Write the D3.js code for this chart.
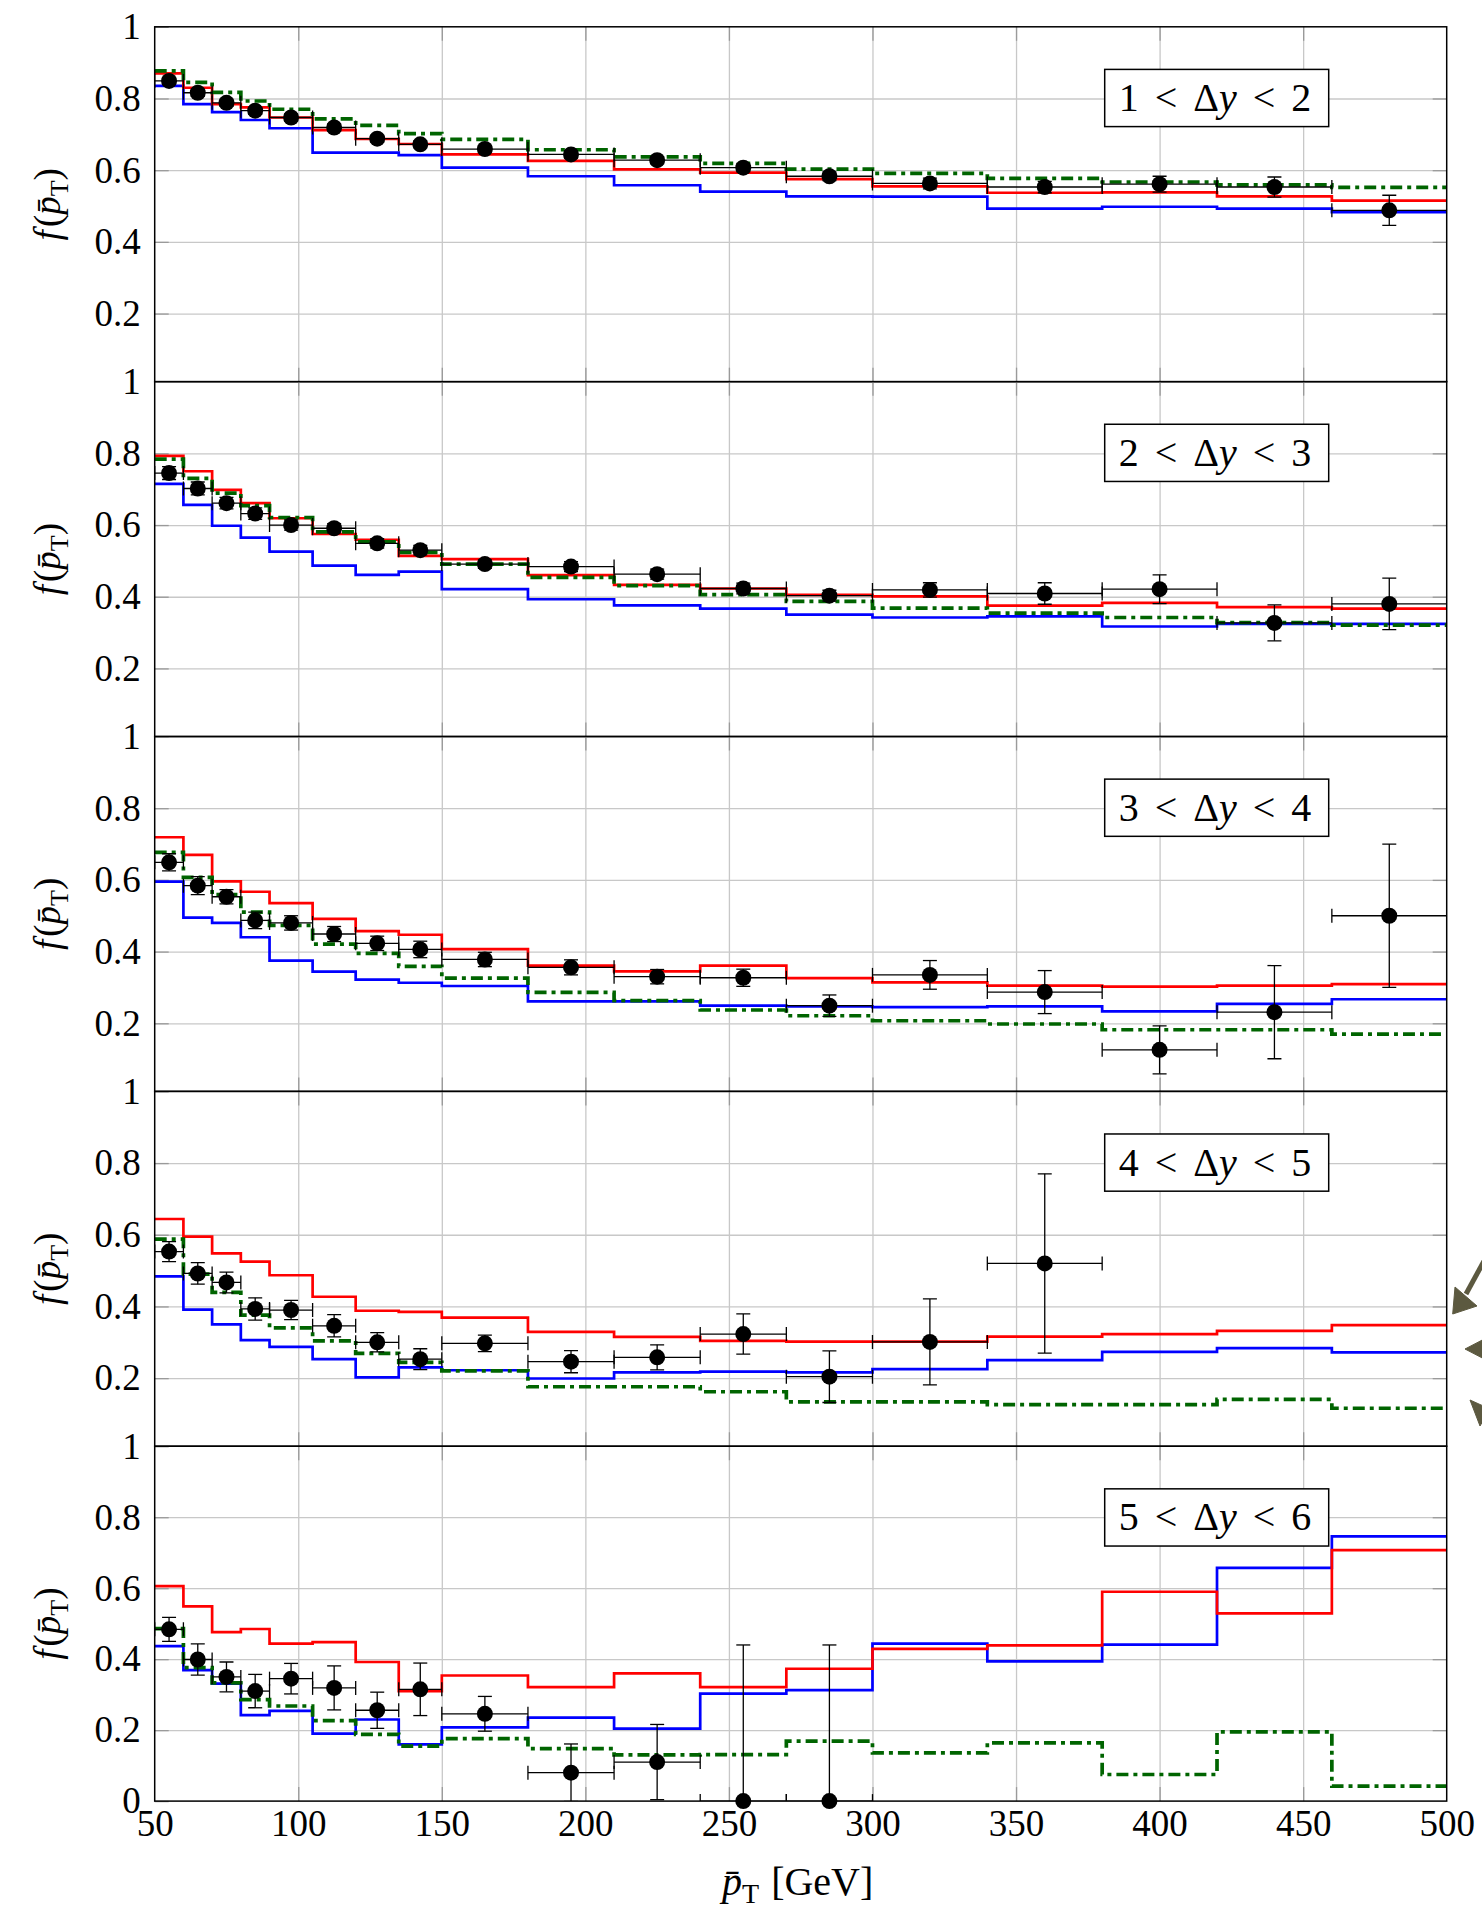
<!DOCTYPE html>
<html><head><meta charset="utf-8">
<script src="https://cdn.jsdelivr.net/npm/d3@7"></script>
<style>body{margin:0;background:#fff} svg{display:block} svg text{font-family:"Liberation Serif","Times New Roman","DejaVu Serif",serif !important;}</style>
</head><body>
<script>
// ---------- data ----------
const binEdges = [50,60,70,80,90,105,120,135,150,180,210,240,270,300,340,380,420,460,500];
const ptCenters = [55,65,75,85,97.5,112.5,127.5,142.5,165,195,225,255,285,320,360,400,440,480];
const xTicks = [50,100,150,200,250,300,350,400,450,500];
const yTicks = [0.2,0.4,0.6,0.8,1];
const panelLabels = ["1","2","3","4","5"];
const panelLabelsHi = ["2","3","4","5","6"];

const data1 = [0.849,0.816,0.788,0.766,0.747,0.719,0.688,0.672,0.659,0.644,0.628,0.607,0.583,0.563,0.553,0.561,0.553,0.488];
const err1  = [0.010,0.010,0.010,0.010,0.010,0.010,0.010,0.010,0.010,0.010,0.010,0.012,0.012,0.015,0.016,0.022,0.028,0.042];
const red1  = [0.870,0.830,0.784,0.775,0.747,0.712,0.687,0.673,0.644,0.626,0.602,0.593,0.575,0.555,0.537,0.538,0.527,0.515];
const blue1 = [0.835,0.784,0.762,0.740,0.717,0.649,0.649,0.642,0.607,0.583,0.558,0.540,0.527,0.526,0.493,0.498,0.493,0.483];
const green1= [0.877,0.845,0.817,0.793,0.770,0.743,0.725,0.702,0.686,0.657,0.637,0.619,0.603,0.591,0.577,0.567,0.559,0.552];

const data2 = [0.745,0.702,0.661,0.632,0.600,0.591,0.549,0.530,0.491,0.484,0.463,0.423,0.403,0.419,0.409,0.421,0.327,0.380];
const err2  = [0.018,0.018,0.016,0.016,0.014,0.013,0.013,0.013,0.012,0.014,0.014,0.015,0.015,0.020,0.030,0.040,0.050,0.072];
const red2  = [0.793,0.750,0.698,0.661,0.619,0.575,0.559,0.514,0.505,0.460,0.433,0.423,0.405,0.401,0.375,0.383,0.371,0.367];
const blue2 = [0.715,0.656,0.598,0.565,0.526,0.487,0.461,0.470,0.421,0.393,0.376,0.367,0.350,0.342,0.345,0.317,0.324,0.324];
const green2= [0.784,0.730,0.689,0.654,0.621,0.581,0.553,0.524,0.491,0.454,0.431,0.406,0.387,0.368,0.354,0.342,0.328,0.321];

const data3 = [0.649,0.584,0.553,0.487,0.480,0.449,0.423,0.406,0.378,0.356,0.330,0.327,0.249,0.335,0.287,0.126,0.231,0.500];
const err3  = [0.024,0.025,0.020,0.023,0.020,0.021,0.020,0.023,0.020,0.021,0.020,0.024,0.030,0.040,0.060,0.067,0.130,0.200];
const red3  = [0.719,0.670,0.596,0.567,0.535,0.491,0.457,0.447,0.407,0.361,0.345,0.361,0.326,0.314,0.305,0.302,0.305,0.309];
const blue3 = [0.595,0.495,0.480,0.440,0.375,0.344,0.322,0.313,0.304,0.261,0.261,0.249,0.247,0.245,0.247,0.233,0.254,0.267];
const green3= [0.677,0.607,0.559,0.510,0.473,0.421,0.395,0.359,0.326,0.286,0.263,0.237,0.221,0.207,0.198,0.182,0.182,0.170];

const data4 = [0.553,0.492,0.467,0.393,0.390,0.346,0.300,0.253,0.297,0.246,0.258,0.323,0.204,0.301,0.520];
const err4  = [0.028,0.030,0.029,0.031,0.027,0.031,0.027,0.029,0.023,0.031,0.035,0.056,0.072,0.120,0.250];
const red4  = [0.644,0.595,0.548,0.525,0.487,0.427,0.388,0.385,0.369,0.329,0.315,0.304,0.302,0.302,0.316,0.323,0.332,0.348];
const blue4 = [0.484,0.391,0.350,0.306,0.287,0.253,0.202,0.230,0.222,0.199,0.216,0.218,0.216,0.225,0.250,0.273,0.284,0.272];
const green4= [0.588,0.490,0.439,0.376,0.340,0.304,0.269,0.244,0.220,0.176,0.176,0.162,0.134,0.134,0.126,0.126,0.141,0.116];

const data5 = [0.484,0.399,0.350,0.310,0.345,0.319,0.256,0.315,0.246,0.080,0.110,0.000,0.000];
const err5  = [0.034,0.044,0.042,0.047,0.043,0.062,0.051,0.074,0.049,0.081,0.106,0.440,0.440];
const red5  = [0.606,0.549,0.476,0.485,0.444,0.448,0.392,0.310,0.354,0.321,0.360,0.321,0.373,0.429,0.439,0.590,0.529,0.707];
const blue5 = [0.437,0.369,0.331,0.242,0.254,0.190,0.230,0.160,0.208,0.235,0.204,0.303,0.313,0.444,0.394,0.441,0.657,0.746];
const green5= [0.486,0.376,0.333,0.286,0.268,0.227,0.188,0.155,0.176,0.148,0.130,0.131,0.169,0.136,0.164,0.075,0.195,0.042];

const panels = [
  {data:data1, err:err1, red:red1, blue:blue1, green:green1, ymin:0.01},
  {data:data2, err:err2, red:red2, blue:blue2, green:green2, ymin:0.01},
  {data:data3, err:err3, red:red3, blue:blue3, green:green3, ymin:0.01},
  {data:data4, err:err4, red:red4, blue:blue4, green:green4, ymin:0.01},
  {data:data5, err:err5, red:red5, blue:blue5, green:green5, ymin:0}
];

// ---------- layout ----------
const W = 1482, H = 1909;
const plotL = 154.7, plotR = 1446.7, top0 = 26.8, panelH = 354.86;
const FONT = '"Liberation Serif","Times New Roman","DejaVu Serif",serif';
const GREEN = "#006400";

const x = d3.scaleLinear().domain([50,500]).range([plotL, plotR]);
const svg = d3.select("body").append("svg").attr("width", W).attr("height", H)
  .style("font-family", FONT);

const defs = svg.append("defs");

panels.forEach((p, i) => {
  const t = top0 + i*panelH, b = t + panelH;
  const y = d3.scaleLinear().domain([p.ymin, 1]).range([b, t]);
  const g = svg.append("g");
  const clipId = "clip" + i;
  defs.append("clipPath").attr("id", clipId).append("rect")
    .attr("x", plotL).attr("y", t).attr("width", plotR - plotL).attr("height", panelH);

  // grid
  const gx = g.append("g").attr("transform", `translate(0,${b})`)
    .call(d3.axisBottom(x).tickValues(xTicks.slice(1,-1)).tickSize(-panelH).tickFormat(""));
  const gy = g.append("g").attr("transform", `translate(${plotL},0)`)
    .call(d3.axisLeft(y).tickValues(yTicks.slice(0,-1)).tickSize(-(plotR-plotL)).tickFormat(""));
  [gx, gy].forEach(a => {
    a.select(".domain").remove();
    a.selectAll("line").attr("stroke", "#c8c8c8").attr("stroke-width", 1.3);
  });

  // inner ticks
  const tk = 14;
  const axL = g.append("g").attr("transform", `translate(${plotL},0)`)
    .call(d3.axisLeft(y).tickValues(i === 4 ? [0].concat(yTicks) : yTicks)
      .tickSize(-tk).tickPadding(14).tickFormat(d3.format("~g")));
  const axR = g.append("g").attr("transform", `translate(${plotR},0)`)
    .call(d3.axisRight(y).tickValues(yTicks.slice(0,-1)).tickSize(-tk).tickFormat(""));
  const axB = g.append("g").attr("transform", `translate(0,${b})`)
    .call(d3.axisBottom(x).tickValues(xTicks.slice(1,-1)).tickSize(-tk).tickFormat(""));
  const axT = g.append("g").attr("transform", `translate(0,${t})`)
    .call(d3.axisTop(x).tickValues(xTicks.slice(1,-1)).tickSize(-tk).tickFormat(""));
  [axL, axR, axB, axT].forEach(a => {
    a.select(".domain").remove();
    a.selectAll("line").attr("stroke", "#9a9a9a").attr("stroke-width", 1.3);
  });
  axL.selectAll("text").attr("font-size", 37).attr("fill", "#000").style("font-family", FONT);

  if (i === 4) {
    const axX = g.append("g").attr("transform", `translate(0,${b})`)
      .call(d3.axisBottom(x).tickValues(xTicks).tickSize(0).tickPadding(9).tickFormat(d3.format("d")));
    axX.select(".domain").remove();
    axX.selectAll("text").attr("font-size", 37).attr("fill", "#000").style("font-family", FONT);
  }

  // step curves
  const stepLine = d3.line().curve(d3.curveStepAfter).x(d => x(d[0])).y(d => y(d[1]));
  const stepPts = vals => binEdges.map((e, k) => [e, vals[Math.min(k, vals.length - 1)]]);
  const curves = g.append("g").attr("clip-path", `url(#${clipId})`).attr("fill", "none");
  curves.append("path").attr("d", stepLine(stepPts(p.blue))).attr("stroke", "#0000ff").attr("stroke-width", 2.7);
  curves.append("path").attr("d", stepLine(stepPts(p.red))).attr("stroke", "#ff0000").attr("stroke-width", 2.7);
  curves.append("path").attr("d", stepLine(stepPts(p.green))).attr("stroke", GREEN).attr("stroke-width", 3.7)
    .attr("stroke-dasharray", "12,5,4,5");

  // data with error bars
  const pts = p.data.map((v, k) => ({
    x: ptCenters[k], x0: binEdges[k], x1: binEdges[k+1], v: v, e: p.err[k]
  }));
  const eb = g.append("g").attr("clip-path", `url(#${clipId})`).attr("stroke", "#000").attr("stroke-width", 1.3);
  const cap = 7;
  pts.forEach(d => {
    const cx = x(d.x), cy = y(d.v);
    eb.append("line").attr("x1", x(d.x0)).attr("x2", x(d.x1)).attr("y1", cy).attr("y2", cy);
    eb.append("line").attr("x1", x(d.x0)).attr("x2", x(d.x0)).attr("y1", cy - cap).attr("y2", cy + cap);
    eb.append("line").attr("x1", x(d.x1)).attr("x2", x(d.x1)).attr("y1", cy - cap).attr("y2", cy + cap);
    eb.append("line").attr("x1", cx).attr("x2", cx).attr("y1", y(d.v - d.e)).attr("y2", y(d.v + d.e));
    eb.append("line").attr("x1", cx - cap).attr("x2", cx + cap).attr("y1", y(d.v - d.e)).attr("y2", y(d.v - d.e));
    eb.append("line").attr("x1", cx - cap).attr("x2", cx + cap).attr("y1", y(d.v + d.e)).attr("y2", y(d.v + d.e));
  });

  // frame
  g.append("rect").attr("x", plotL).attr("y", t).attr("width", plotR - plotL).attr("height", panelH)
    .attr("fill", "none").attr("stroke", "#000").attr("stroke-width", 1.5);

  g.append("g").selectAll("circle").data(pts).join("circle")
    .attr("cx", d => x(d.x)).attr("cy", d => y(d.v)).attr("r", 8).attr("fill", "#000");

  // label box
  const bw = 224, bh = 57.2, bx = plotR - 118 - bw, by = t + 42.6;
  g.append("rect").attr("x", bx).attr("y", by).attr("width", bw).attr("height", bh)
    .attr("fill", "#fff").attr("stroke", "#000").attr("stroke-width", 1.5);
  const gap = 16;
  const lt = g.append("text").attr("x", bx + 14).attr("y", by + bh/2 + 13)
    .attr("text-anchor", "start").attr("font-size", 40).style("font-family", FONT);
  lt.append("tspan").text(panelLabels[i]);
  lt.append("tspan").attr("dx", gap).text("<");
  lt.append("tspan").attr("dx", gap).text("Δ");
  lt.append("tspan").attr("font-style", "italic").text("y");
  lt.append("tspan").attr("dx", gap).text("<");
  lt.append("tspan").attr("dx", gap).text(panelLabelsHi[i]);

  // y axis label
  const yl = g.append("text").attr("transform", `translate(60,${(t+b)/2}) rotate(-90)`)
    .attr("text-anchor", "middle").attr("font-size", 37).style("font-family", FONT);
  yl.append("tspan").attr("font-style", "italic").text("f");
  yl.append("tspan").attr("dx", 3).text("(");
  yl.append("tspan").attr("font-style", "italic").text("p\u0304");
  yl.append("tspan").attr("font-size", 26).attr("dy", 8).text("T");
  yl.append("tspan").attr("dy", -8).text(")");
});

// x axis label
const xl = svg.append("text").attr("x", (plotL + plotR)/2 - 3).attr("y", 1895)
  .attr("text-anchor", "middle").attr("font-size", 40).style("font-family", FONT);
xl.append("tspan").attr("font-style", "italic").text("p\u0304");
xl.append("tspan").attr("font-size", 28).attr("dy", 8).text("T");
xl.append("tspan").attr("dy", -8).attr("dx", 12).text("[GeV]");

// annotation arrows at right edge (partly outside the picture)
const ann = svg.append("g").attr("fill", "#5c5940").attr("stroke", "#5c5940");
ann.append("line").attr("x1", 1490).attr("y1", 1250).attr("x2", 1466).attr("y2", 1294).attr("stroke-width", 5);
ann.append("polygon").attr("points", "1452.7,1314 1455,1287 1477,1306").attr("stroke-width", 1);
ann.append("polygon").attr("points", "1465,1349 1490,1336 1490,1362").attr("stroke-width", 1);
ann.append("polygon").attr("points", "1470,1400 1490,1409 1480,1426").attr("stroke-width", 1);
</script>
</body></html>
